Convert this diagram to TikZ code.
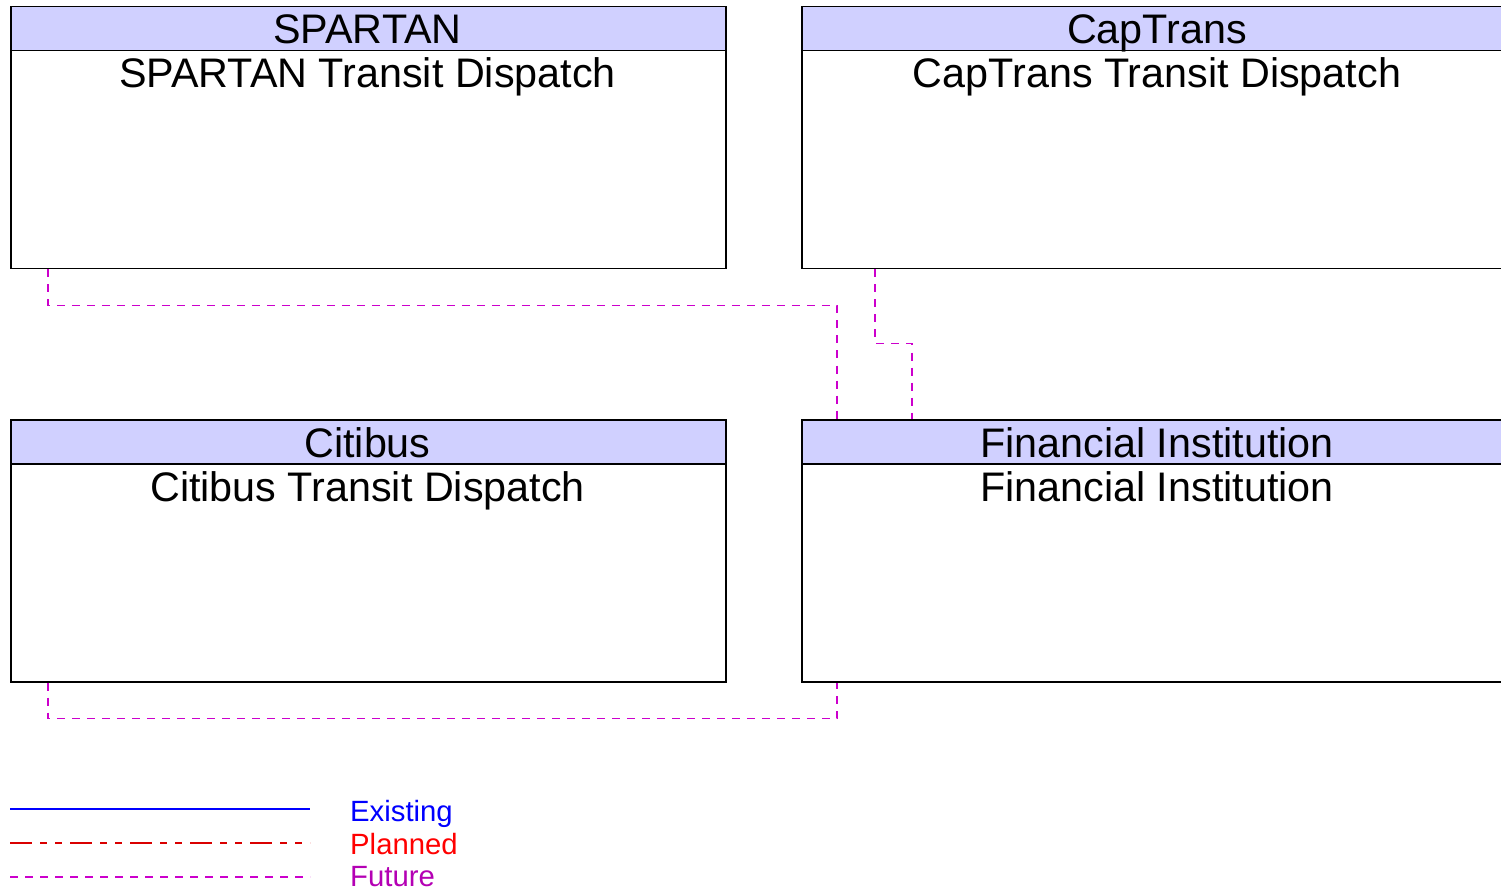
\documentclass[tikz,border=0pt]{standalone}
\usepackage{fontspec}
\setmainfont{Liberation Sans}
\definecolor{headblue}{RGB}{208,208,255}
\definecolor{futurec}{RGB}{204,0,204}
\definecolor{futuretext}{RGB}{180,0,180}
\tikzset{
  body/.style={draw=black, line width=1.5pt, fill=white, minimum width=715pt, minimum height=262pt, inner sep=0pt, anchor=north west},
  head/.style={draw=black, line width=1.5pt, fill=headblue, minimum width=715pt, minimum height=44pt, inner sep=0pt, anchor=north west},
  label/.style={anchor=base, inner sep=0pt, font=\fontsize{41.3}{41.3}\selectfont},
  future/.style={draw=futurec, line width=1.3pt, dash pattern=on 8pt off 7pt},
  planned/.style={draw=red!85!black, line width=1.3pt, dash pattern=on 22pt off 8pt on 7pt off 8pt on 7pt off 8pt},
  existing/.style={draw=blue, line width=2.5pt},
  legendtext/.style={anchor=base west, inner sep=0pt, font=\fontsize{29.3}{29.3}\selectfont},
}
\begin{document}
\begin{tikzpicture}[x=1pt,y=-1pt]
\path[use as bounding box] (0,0) rectangle (1501,890);
\clip (0,0) rectangle (1501,890);
% boxes
\node[body] (sp) at (10,6) {};
\node[head] (sp-h) at (10,6) {};
\node[label] (sp-t) at (367.5,44) {SPARTAN};
\node[label] (sp-b) at (367.5,88) {SPARTAN Transit Dispatch};

\node[body] (ct) at (801,6) {};
\node[head] (ct-h) at (801,6) {};
\node[label] (ct-t) at (1157,44) {CapTrans};
\node[label] (ct-b) at (1157,88) {CapTrans Transit Dispatch};

\node[body] (ci) at (10,419) {};
\node[head] (ci-h) at (10,419) {};
\node[label] (ci-t) at (367.5,457) {Citibus};
\node[label] (ci-b) at (367.5,501) {Citibus Transit Dispatch};

\node[body] (fi) at (801,419) {};
\node[head] (fi-h) at (801,419) {};
\node[label] (fi-t) at (1157,457) {Financial Institution};
\node[label] (fi-b) at (1157,501) {Financial Institution};

% connectors
\draw[future] ([xshift=38pt]sp.south west) -- ++(0pt,-36pt) -| ([xshift=36pt]fi-h.north west);
\draw[future] ([xshift=74pt]ct.south west) -- ++(0pt,-74pt) -| ([xshift=111pt]fi-h.north west);
\draw[future] ([xshift=38pt]ci.south west) -- ++(0pt,-36pt) -| ([xshift=36pt]fi.south west);

% legend
\coordinate (e1) at (10,809); \coordinate (e2) at (310,809);
\coordinate (p1) at (10,843); \coordinate (p2) at (310,843);
\coordinate (f1) at (10,877); \coordinate (f2) at (310,877);
\draw[existing] (e1) -- (e2);
\draw[planned] (p1) -- (p2);
\draw[future] (f1) -- (f2);
\node[legendtext, text=blue] (le) at (350,821) {Existing};
\node[legendtext, text=red] (lp) at (350,854) {Planned};
\node[legendtext, text=futuretext] (lf) at (350,886) {Future};
\end{tikzpicture}
\end{document}
